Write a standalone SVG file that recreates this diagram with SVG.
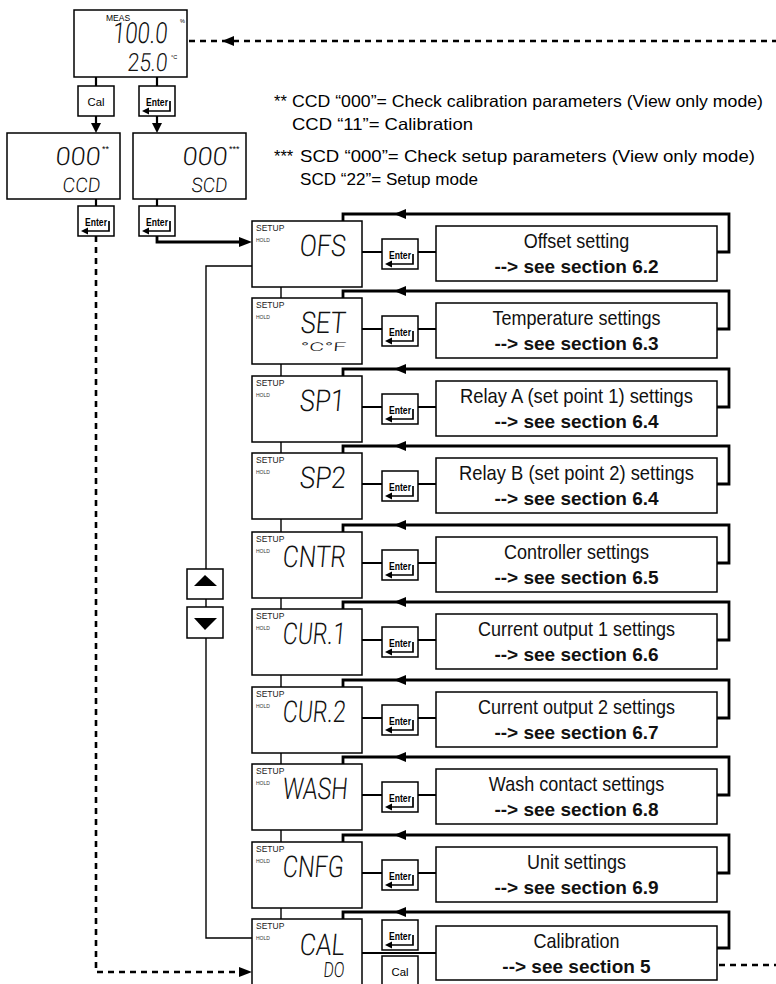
<svg xmlns="http://www.w3.org/2000/svg" xmlns:xlink="http://www.w3.org/1999/xlink" width="776" height="984" viewBox="0 0 776 984">
<style>
.box{fill:#fff;stroke:#000;stroke-width:1.5}
.thin{fill:none;stroke:#000;stroke-width:1.4}
.mid{fill:none;stroke:#000;stroke-width:2.2}
.thick{fill:none;stroke:#000;stroke-width:2.8}
.dash{fill:none;stroke:#000;stroke-width:2.6;stroke-dasharray:6 5}
.lbl{font-family:"Liberation Sans",Arial,sans-serif;fill:#000}
.seg{font-family:Roboto,"DejaVu Sans",sans-serif;font-weight:300;fill:#111}
.t1{font-family:"Liberation Sans",Arial,sans-serif;font-size:20px;text-anchor:middle;fill:#111}
.t2{font-family:"Liberation Sans",Arial,sans-serif;font-size:19px;font-weight:bold;text-anchor:middle;fill:#111}
.setup{font-family:"Liberation Sans",Arial,sans-serif;font-size:8.5px;fill:#222}
.hold{font-family:"Liberation Sans",Arial,sans-serif;font-size:5px;fill:#333}
</style>
<defs>
<g id="enterBtn">
<rect x="0" y="0" width="36" height="30" class="box"/>
<text x="7" y="19.5" class="lbl" font-size="11" font-weight="bold" textLength="22" lengthAdjust="spacingAndGlyphs">Enter</text>
<path d="M31,15 V25 H9" fill="none" stroke="#000" stroke-width="1.7"/>
<polygon points="3,25 10,21.5 10,28.5" fill="#000"/>
</g>
<g id="calBtn">
<rect x="0" y="0" width="36" height="30" class="box"/>
<text x="18" y="19.5" class="lbl" font-size="11" text-anchor="middle" textLength="17" lengthAdjust="spacingAndGlyphs">Cal</text>
</g>
</defs>
<rect width="776" height="984" fill="#fff"/>

<g id="connectors">
<path class="dash" d="M189,41 H776"/>
<polygon points="222,41 234,36 234,46" fill="#000"/>
<path class="mid" d="M96,77 V86 M157,77 V86"/>
<path class="mid" d="M96,115 V124 M157,115 V124"/>
<polygon points="96,133 91,123 101,123" fill="#000"/>
<polygon points="157,133 152,123 162,123" fill="#000"/>
<path class="mid" d="M96,199 V206 M157,199 V206"/>
<path class="thick" d="M157,235 V242 H241"/>
<polygon points="252,242 239,237 239,247" fill="#000"/>
<path class="dash" d="M96,236 V972 H242"/>
<polygon points="252,972 239,967 239,977" fill="#000"/>
<path class="thin" d="M252,266 H206 V938 H252"/>
<path class="thin" d="M281,287 V298 M281,364 V376 M281,442 V453 M281,519 V532 M281,598 V609 M281,675 V687 M281,753 V764 M281,830 V842 M281,908 V919"/>
<path class="mid" d="M362,252 H382 M418,252 H436"/>
<path class="mid" d="M362,329 H382 M418,329 H436"/>
<path class="mid" d="M362,407 H382 M418,407 H436"/>
<path class="mid" d="M362,484 H382 M418,484 H436"/>
<path class="mid" d="M362,563 H382 M418,563 H436"/>
<path class="mid" d="M362,640 H382 M418,640 H436"/>
<path class="mid" d="M362,718 H382 M418,718 H436"/>
<path class="mid" d="M362,795 H382 M418,795 H436"/>
<path class="mid" d="M362,873 H382 M418,873 H436"/>
<path class="mid" d="M362,953 H436"/>
<path class="thick" d="M717,252 H729 V214 H343 V221"/>
<polygon points="394,214 406,209 406,219" fill="#000"/>
<path class="thick" d="M717,329 H729 V291 H343 V298"/>
<polygon points="394,291 406,286 406,296" fill="#000"/>
<path class="thick" d="M717,407 H729 V369 H343 V376"/>
<polygon points="394,369 406,364 406,374" fill="#000"/>
<path class="thick" d="M717,484 H729 V446 H343 V453"/>
<polygon points="394,446 406,441 406,451" fill="#000"/>
<path class="thick" d="M717,563 H729 V525 H343 V532"/>
<polygon points="394,525 406,520 406,530" fill="#000"/>
<path class="thick" d="M717,640 H729 V602 H343 V609"/>
<polygon points="394,602 406,597 406,607" fill="#000"/>
<path class="thick" d="M717,718 H729 V680 H343 V687"/>
<polygon points="394,680 406,675 406,685" fill="#000"/>
<path class="thick" d="M717,795 H729 V757 H343 V764"/>
<polygon points="394,757 406,752 406,762" fill="#000"/>
<path class="thick" d="M717,873 H729 V835 H343 V842"/>
<polygon points="394,835 406,830 406,840" fill="#000"/>
<path class="thick" d="M717,948 H729 V912 H343 V919"/>
<polygon points="394,912 406,907 406,917" fill="#000"/>
<path class="dash" d="M719,965 H776"/>
</g>

<g id="meas">
<rect x="74" y="10" width="113" height="67" class="box"/>
<text x="106" y="21" class="lbl" font-size="8.5">MEAS</text>
<text x="180" y="23" class="lbl" font-size="5.5">%</text>
<text x="171" y="59" class="lbl" font-size="5.5">°C</text>
<g transform="translate(167,43) skewX(-5)"><text class="seg" font-size="29" text-anchor="end" textLength="55" lengthAdjust="spacingAndGlyphs">100.0</text></g>
<g transform="translate(167,71) skewX(-5)"><text class="seg" font-size="25" text-anchor="end" textLength="40" lengthAdjust="spacingAndGlyphs">25.0</text></g>
</g>
<g id="btn-cal-top"><use xlink:href="#calBtn" x="78" y="86"/></g>
<g id="btn-enter-top"><use xlink:href="#enterBtn" x="139" y="86"/></g>

<g id="ccd">
<rect x="7" y="133" width="113" height="66" class="box"/>
<g transform="translate(100,165) skewX(-5)"><text class="seg" font-size="25" text-anchor="end" textLength="45" lengthAdjust="spacingAndGlyphs">000</text></g>
<text x="102" y="152" class="lbl" font-size="9">**</text>
<g transform="translate(100,192) skewX(-5)"><text class="seg" font-size="20" text-anchor="end" textLength="38" lengthAdjust="spacingAndGlyphs">CCD</text></g>
</g>
<g id="scd">
<rect x="133" y="133" width="113" height="66" class="box"/>
<g transform="translate(227,165) skewX(-5)"><text class="seg" font-size="25" text-anchor="end" textLength="45" lengthAdjust="spacingAndGlyphs">000</text></g>
<text x="229" y="152" class="lbl" font-size="9">***</text>
<g transform="translate(227,192) skewX(-5)"><text class="seg" font-size="20" text-anchor="end" textLength="36" lengthAdjust="spacingAndGlyphs">SCD</text></g>
</g>
<g id="btn-enter-ccd"><use xlink:href="#enterBtn" x="78" y="206"/></g>
<g id="btn-enter-scd"><use xlink:href="#enterBtn" x="139" y="206"/></g>

<g id="notes" class="lbl" font-size="16.5">
<text x="274" y="107">**</text>
<text x="292" y="107" textLength="471" lengthAdjust="spacingAndGlyphs">CCD “000”= Check calibration parameters (View only mode)</text>
<text x="292" y="130" textLength="181" lengthAdjust="spacingAndGlyphs">CCD “11”= Calibration</text>
<text x="274" y="162">***</text>
<text x="300" y="162" textLength="455" lengthAdjust="spacingAndGlyphs">SCD “000”= Check setup parameters (View only mode)</text>
<text x="300" y="185" textLength="178" lengthAdjust="spacingAndGlyphs">SCD “22”= Setup mode</text>
</g>

<g id="btn-up"><rect x="187" y="569" width="36" height="30" class="box"/><polygon points="205,575 194,586 217,586" fill="#000"/></g>
<g id="btn-down"><rect x="187" y="607" width="36" height="31" class="box"/><polygon points="205,630 194,618 217,618" fill="#000"/></g>

<g id="row-ofs">
<rect x="252" y="221" width="110" height="66" class="box"/>
<text x="256" y="231" class="setup">SETUP</text><text x="256" y="242" class="hold">HOLD</text>
<g transform="translate(345,256) skewX(-5)"><text class="seg" font-size="30" text-anchor="end" textLength="46" lengthAdjust="spacingAndGlyphs">OFS</text></g>
<use xlink:href="#enterBtn" x="382" y="239"/>
<rect x="436" y="226" width="281" height="55" class="box"/>
<text transform="translate(576.5 248) scale(0.9 1)" class="t1">Offset setting</text>
<text x="576.5" y="273" class="t2">--&gt; see section 6.2</text>
</g>

<g id="row-set">
<rect x="252" y="298" width="110" height="66" class="box"/>
<text x="256" y="308" class="setup">SETUP</text><text x="256" y="319" class="hold">HOLD</text>
<g transform="translate(345,333) skewX(-5)"><text class="seg" font-size="30" text-anchor="end" textLength="45" lengthAdjust="spacingAndGlyphs">SET</text></g>
<g transform="translate(346,351) skewX(-5)"><text class="seg" font-size="12" text-anchor="end" textLength="46" lengthAdjust="spacingAndGlyphs">°C°F</text></g>
<use xlink:href="#enterBtn" x="382" y="316"/>
<rect x="436" y="303" width="281" height="55" class="box"/>
<text transform="translate(576.5 325) scale(0.9 1)" class="t1">Temperature settings</text>
<text x="576.5" y="350" class="t2">--&gt; see section 6.3</text>
</g>

<g id="row-sp1">
<rect x="252" y="376" width="110" height="66" class="box"/>
<text x="256" y="386" class="setup">SETUP</text><text x="256" y="397" class="hold">HOLD</text>
<g transform="translate(344,411) skewX(-5)"><text class="seg" font-size="30" text-anchor="end" textLength="45" lengthAdjust="spacingAndGlyphs">SP1</text></g>
<use xlink:href="#enterBtn" x="382" y="394"/>
<rect x="436" y="381" width="281" height="55" class="box"/>
<text transform="translate(576.5 403) scale(0.92 1)" class="t1">Relay A (set point 1) settings</text>
<text x="576.5" y="428" class="t2">--&gt; see section 6.4</text>
</g>

<g id="row-sp2">
<rect x="252" y="453" width="110" height="66" class="box"/>
<text x="256" y="463" class="setup">SETUP</text><text x="256" y="474" class="hold">HOLD</text>
<g transform="translate(345,488) skewX(-5)"><text class="seg" font-size="30" text-anchor="end" textLength="46" lengthAdjust="spacingAndGlyphs">SP2</text></g>
<use xlink:href="#enterBtn" x="382" y="471"/>
<rect x="436" y="458" width="281" height="55" class="box"/>
<text transform="translate(576.5 480) scale(0.92 1)" class="t1">Relay B (set point 2) settings</text>
<text x="576.5" y="505" class="t2">--&gt; see section 6.4</text>
</g>

<g id="row-cntr">
<rect x="252" y="532" width="110" height="66" class="box"/>
<text x="256" y="542" class="setup">SETUP</text><text x="256" y="553" class="hold">HOLD</text>
<g transform="translate(345,567) skewX(-5)"><text class="seg" font-size="30" text-anchor="end" textLength="63" lengthAdjust="spacingAndGlyphs">CNTR</text></g>
<use xlink:href="#enterBtn" x="382" y="550"/>
<rect x="436" y="537" width="281" height="55" class="box"/>
<text transform="translate(576.5 559) scale(0.9 1)" class="t1">Controller settings</text>
<text x="576.5" y="584" class="t2">--&gt; see section 6.5</text>
</g>

<g id="row-cur1">
<rect x="252" y="609" width="110" height="66" class="box"/>
<text x="256" y="619" class="setup">SETUP</text><text x="256" y="630" class="hold">HOLD</text>
<g transform="translate(345,644) skewX(-5)"><text class="seg" font-size="30" text-anchor="end" textLength="63" lengthAdjust="spacingAndGlyphs">CUR.1</text></g>
<use xlink:href="#enterBtn" x="382" y="627"/>
<rect x="436" y="614" width="281" height="55" class="box"/>
<text transform="translate(576.5 636) scale(0.9 1)" class="t1">Current output 1 settings</text>
<text x="576.5" y="661" class="t2">--&gt; see section 6.6</text>
</g>

<g id="row-cur2">
<rect x="252" y="687" width="110" height="66" class="box"/>
<text x="256" y="697" class="setup">SETUP</text><text x="256" y="708" class="hold">HOLD</text>
<g transform="translate(345,722) skewX(-5)"><text class="seg" font-size="30" text-anchor="end" textLength="63" lengthAdjust="spacingAndGlyphs">CUR.2</text></g>
<use xlink:href="#enterBtn" x="382" y="705"/>
<rect x="436" y="692" width="281" height="55" class="box"/>
<text transform="translate(576.5 714) scale(0.9 1)" class="t1">Current output 2 settings</text>
<text x="576.5" y="739" class="t2">--&gt; see section 6.7</text>
</g>

<g id="row-wash">
<rect x="252" y="764" width="110" height="66" class="box"/>
<text x="256" y="774" class="setup">SETUP</text><text x="256" y="785" class="hold">HOLD</text>
<g transform="translate(347,799) skewX(-5)"><text class="seg" font-size="30" text-anchor="end" textLength="65" lengthAdjust="spacingAndGlyphs">WASH</text></g>
<use xlink:href="#enterBtn" x="382" y="782"/>
<rect x="436" y="769" width="281" height="55" class="box"/>
<text transform="translate(576.5 791) scale(0.9 1)" class="t1">Wash contact settings</text>
<text x="576.5" y="816" class="t2">--&gt; see section 6.8</text>
</g>

<g id="row-cnfg">
<rect x="252" y="842" width="110" height="66" class="box"/>
<text x="256" y="852" class="setup">SETUP</text><text x="256" y="863" class="hold">HOLD</text>
<g transform="translate(343,877) skewX(-5)"><text class="seg" font-size="30" text-anchor="end" textLength="61" lengthAdjust="spacingAndGlyphs">CNFG</text></g>
<use xlink:href="#enterBtn" x="382" y="860"/>
<rect x="436" y="847" width="281" height="55" class="box"/>
<text transform="translate(576.5 869) scale(0.9 1)" class="t1">Unit settings</text>
<text x="576.5" y="894" class="t2">--&gt; see section 6.9</text>
</g>

<g id="row-cal">
<rect x="252" y="919" width="110" height="70" class="box"/>
<text x="256" y="929" class="setup">SETUP</text><text x="256" y="940" class="hold">HOLD</text>
<g transform="translate(344,955) skewX(-5)"><text class="seg" font-size="30" text-anchor="end" textLength="45" lengthAdjust="spacingAndGlyphs">CAL</text></g>
<g transform="translate(344,977) skewX(-5)"><text class="seg" font-size="21" text-anchor="end" textLength="21" lengthAdjust="spacingAndGlyphs">DO</text></g>
<use xlink:href="#enterBtn" x="382" y="920"/>
<use xlink:href="#calBtn" x="382" y="956"/>
<rect x="436" y="926" width="281" height="54" class="box"/>
<text transform="translate(576.5 948) scale(0.9 1)" class="t1">Calibration</text>
<text x="576.5" y="973" class="t2">--&gt; see section 5</text>
</g>
</svg>
